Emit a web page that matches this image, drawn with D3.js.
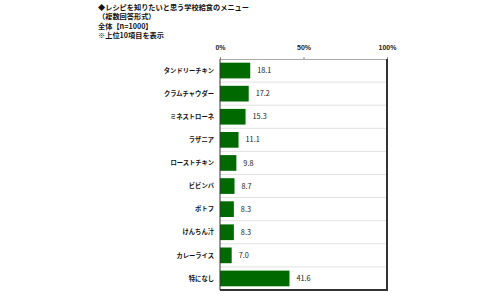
<!DOCTYPE html>
<html>
<head>
<meta charset="utf-8">
<script src="https://cdn.jsdelivr.net/npm/d3@7"></script>
<style>
body { margin: 0; background: #fff; }
svg { font-family: "Noto Sans CJK JP", sans-serif; }
</style>
</head>
<body>
<svg width="500" height="300"></svg>
<script>
// Données
let titres = ["◆レシピを知りたいと思う学校給食のメニュー", "（複数回答形式）", "全体【n=1000】", "※上位10項目を表示"];
let menus = ["タンドリーチキン", "クラムチャウダー", "ミネストローネ", "ラザニア", "ローストチキン", "ビビンバ", "ポトフ", "けんちん汁", "カレーライス", "特になし"];
let valeurs = [18.1, 17.2, 15.3, 11.1, 9.8, 8.7, 8.3, 8.3, 7.0, 41.6];
let graduations = [0, 50, 100];

let svg = d3.select("svg");

// Titre
svg.append("g").selectAll("text")
    .data(titres)
    .enter()
    .append("text")
    .attr("x", 98)
    .attr("y", (d, i) => 10 + i * 9.3)
    .attr("font-size", 7.2)
    .attr("font-weight", "bold")
    .attr("fill", "#111")
    .text(d => d);

let x = d3.scaleLinear().domain([0, 100]).range([220, 387]);
let y = d3.scaleBand().domain(menus).range([59, 290]).paddingInner(0.32).paddingOuter(0.16);

// Lignes de séparation
let pas = (290 - 59) / menus.length;
svg.append("g").selectAll("line")
    .data(d3.range(1, menus.length))
    .enter()
    .append("line")
    .attr("x1", x(0))
    .attr("x2", x(100))
    .attr("y1", i => 59 + i * pas)
    .attr("y2", i => 59 + i * pas)
    .attr("stroke", "#e2e2e2")
    .attr("stroke-width", 1);

// Axe du haut
let axe = svg.append("g")
    .attr("transform", "translate(0,59)")
    .call(d3.axisTop(x).tickValues(graduations).tickFormat(d => d + "%").tickSize(2));
axe.select(".domain").attr("stroke", "#aaa");
axe.selectAll(".tick line").attr("stroke", "#888");
axe.selectAll("text")
    .attr("font-size", 7)
    .attr("font-weight", "bold")
    .attr("fill", "#222")
    .attr("dy", -4);

// Barres
svg.append("g").selectAll("rect")
    .data(valeurs)
    .enter()
    .append("rect")
    .attr("x", x(0))
    .attr("y", (d, i) => y(menus[i]))
    .attr("width", d => x(d) - x(0))
    .attr("height", y.bandwidth())
    .attr("fill", "#006a00");

// Valeurs
svg.append("g").selectAll("text")
    .data(valeurs)
    .enter()
    .append("text")
    .attr("x", d => x(d) + 7)
    .attr("y", (d, i) => y(menus[i]) + y.bandwidth() / 2)
    .attr("dy", "0.35em")
    .attr("font-size", 7.3)
    .attr("fill", "#222")
    .text(d => d.toFixed(1));

// Libellés
svg.append("g").selectAll("text")
    .data(menus)
    .enter()
    .append("text")
    .attr("x", 214)
    .attr("y", d => y(d) + y.bandwidth() / 2)
    .attr("dy", "0.35em")
    .attr("text-anchor", "end")
    .attr("font-size", 6.3)
    .attr("font-weight", "bold")
    .attr("fill", "#111")
    .text(d => d);

// Cadre
svg.append("line")
    .attr("x1", x(0)).attr("x2", x(0))
    .attr("y1", 59).attr("y2", 290)
    .attr("stroke", "#333").attr("stroke-width", 1);
svg.append("line")
    .attr("x1", x(100)).attr("x2", x(100))
    .attr("y1", 59).attr("y2", 291)
    .attr("stroke", "#333").attr("stroke-width", 2);
svg.append("line")
    .attr("x1", x(0)).attr("x2", x(100) + 1)
    .attr("y1", 290).attr("y2", 290)
    .attr("stroke", "#333").attr("stroke-width", 2);
</script>
</body>
</html>
